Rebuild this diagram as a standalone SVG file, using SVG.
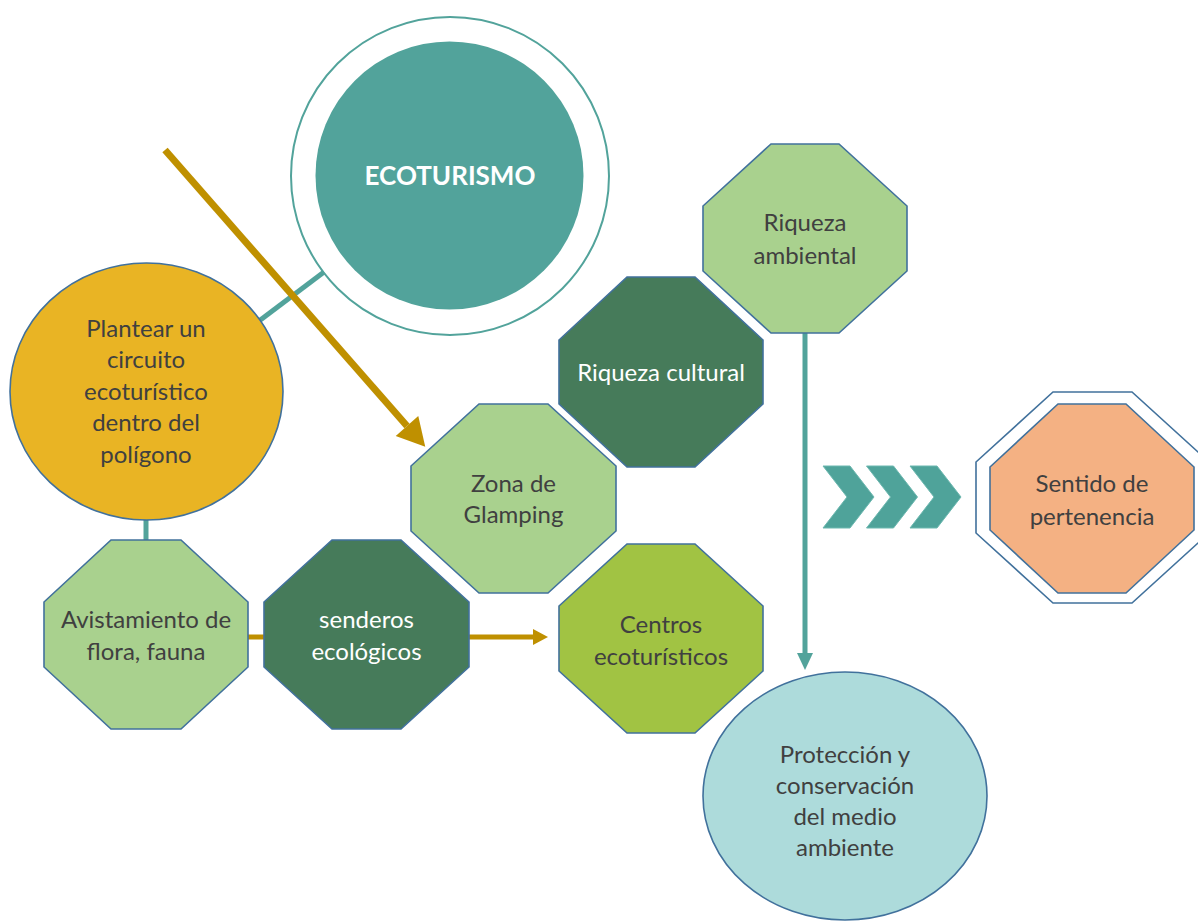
<svg xmlns="http://www.w3.org/2000/svg" width="1198" height="924" viewBox="0 0 1198 924">
<style>
.oct{stroke:#41719C;stroke-width:1.6}
.lg{fill:#A9D18E}
.dg{fill:#467B5A}
.yg{fill:#A1C343}
.t{font-family:Lato,"Open Sans","Liberation Sans",sans-serif;font-size:24px;fill:#404040;text-anchor:middle}
.w{fill:#FFFFFF}
.teal{stroke:#52A39B;stroke-width:5;fill:none}
.gold{stroke:#BF9000;fill:none}
.chev{fill:#4FA39A;stroke:#6DB8B0;stroke-width:1}
</style>
<defs>
<marker id="goldBig" markerUnits="userSpaceOnUse" markerWidth="30" markerHeight="30" refX="0" refY="13" orient="auto" viewBox="0 0 24 26">
<path d="M0,0 L24,13 L0,26 Z" fill="#BF9000"/>
</marker>
<marker id="goldSmall" markerUnits="userSpaceOnUse" markerWidth="16" markerHeight="16" refX="0" refY="8" orient="auto" viewBox="0 0 15 16">
<path d="M0,0 L15,8 L0,16 Z" fill="#BF9000"/>
</marker>
<marker id="tealHead" markerUnits="userSpaceOnUse" markerWidth="17" markerHeight="17" refX="0" refY="8" orient="auto" viewBox="0 0 17 16">
<path d="M0,0 L17,8 L0,16 Z" fill="#52A39B"/>
</marker>
</defs>

<g id="ecoturismo">
<circle cx="450" cy="176" r="159" fill="#FFFFFF" stroke="#52A39B" stroke-width="2"/>
<circle cx="449.5" cy="175.5" r="134" fill="#52A39B"/>
<text x="450" y="185" class="t w" style="font-weight:bold;font-size:26px">ECOTURISMO</text>
</g>

<g id="connectors">
<line class="teal" x1="259" y1="321" x2="324" y2="272"/>
<line class="teal" x1="146" y1="518" x2="146" y2="541"/>
<line class="gold" stroke-width="5" x1="247" y1="637" x2="265" y2="637"/>
<line class="gold" stroke-width="5" x1="468" y1="637" x2="533" y2="637" marker-end="url(#goldSmall)"/>
<line class="teal" x1="805" y1="332" x2="805" y2="653" marker-end="url(#tealHead)"/>
<line class="gold" stroke-width="7" x1="165" y1="150" x2="407" y2="426" marker-end="url(#goldBig)"/>
</g>

<g id="plantear">
<ellipse cx="146.5" cy="391.5" rx="136.5" ry="128.5" fill="#E9B424" stroke="#41719C" stroke-width="1.6"/>
<text class="t" x="146" y="337">Plantear un</text>
<text class="t" x="146" y="368">circuito</text>
<text class="t" x="146" y="400">ecoturístico</text>
<text class="t" x="146" y="431">dentro del</text>
<text class="t" x="146" y="463">polígono</text>
</g>

<g id="avistamiento">
<polygon class="oct lg" points="111,540 181,540 248,602 248,667 181,729 111,729 44,667 44,602"/>
<text class="t" x="146" y="628">Avistamiento de</text>
<text class="t" x="146" y="660">flora, fauna</text>
</g>

<g id="senderos">
<polygon class="oct dg" points="332,540 401,540 469,602 469,667 401,729 332,729 264,667 264,602"/>
<text class="t w" x="366.5" y="628">senderos</text>
<text class="t w" x="366.5" y="660">ecológicos</text>
</g>

<g id="zona">
<polygon class="oct lg" points="479,404 548,404 616,466 616,531 548,593 479,593 411,531 411,466"/>
<text class="t" x="513.5" y="492">Zona de</text>
<text class="t" x="513.5" y="523">Glamping</text>
</g>

<g id="riqueza-cultural">
<polygon class="oct dg" points="627,277 695,277 763,340 763,404 695,467 627,467 559,404 559,340"/>
<text class="t w" x="661" y="381">Riqueza cultural</text>
</g>

<g id="centros">
<polygon class="oct yg" points="627,544 695,544 763,606 763,671 695,733 627,733 559,671 559,606"/>
<text class="t" x="661" y="633">Centros</text>
<text class="t" x="661" y="665">ecoturísticos</text>
</g>

<g id="riqueza-ambiental">
<polygon class="oct lg" points="771,144 839,144 907,206 907,271 839,333 771,333 703,271 703,206"/>
<text class="t" x="805" y="231">Riqueza</text>
<text class="t" x="805" y="264">ambiental</text>
</g>

<g id="proteccion">
<ellipse cx="845" cy="796" rx="142" ry="124" fill="#ADDBDB" stroke="#41719C" stroke-width="1.6"/>
<text class="t" x="845" y="763">Protección y</text>
<text class="t" x="845" y="794">conservación</text>
<text class="t" x="845" y="825">del medio</text>
<text class="t" x="845" y="856">ambiente</text>
</g>

<g id="chevrons">
<polygon class="chev" points="823,466 850,466 874,497 850,528 823,528 847,497"/>
<polygon class="chev" points="866.5,466 893.5,466 917.5,497 893.5,528 866.5,528 890.5,497"/>
<polygon class="chev" points="910,466 937,466 961,497 937,528 910,528 934,497"/>
</g>

<g id="sentido">
<polygon points="1053,392 1132,392 1209,462 1209,533 1132,603 1053,603 976,533 976,462" fill="#FFFFFF" stroke="#41719C" stroke-width="1.6"/>
<polygon points="1058,404 1126,404 1194,467 1194,530 1126,593 1058,593 990,530 990,467" fill="#F4B183" stroke="#41719C" stroke-width="1.6"/>
<text class="t" x="1092" y="492">Sentido de</text>
<text class="t" x="1092" y="525">pertenencia</text>
</g>
</svg>
